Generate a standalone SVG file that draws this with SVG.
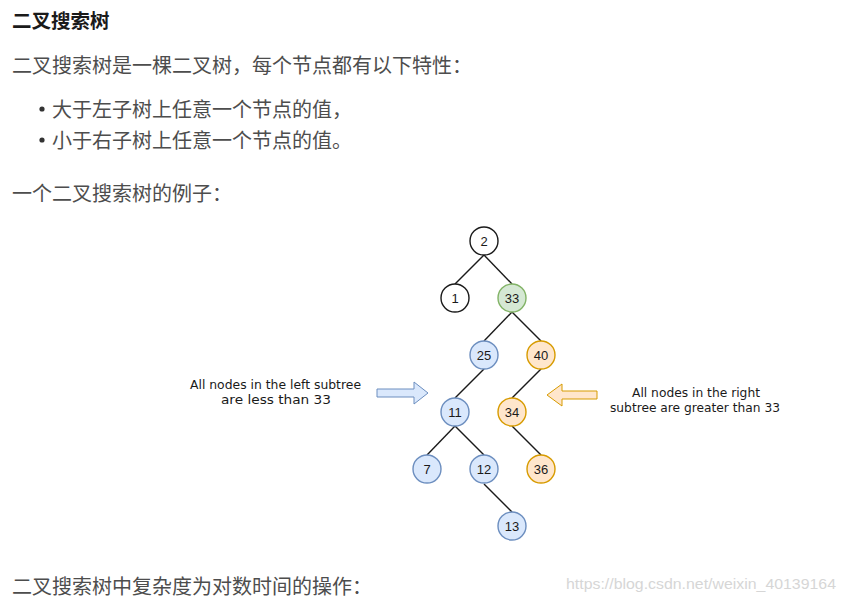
<svg xmlns="http://www.w3.org/2000/svg" width="845" height="602" viewBox="0 0 845 602">
<style>
.body{font-family:"Noto Sans CJK SC","Liberation Sans",sans-serif;font-size:20px;fill:#4d4d4d}
.title{font-family:"Noto Sans CJK SC","Liberation Sans",sans-serif;font-size:19.5px;font-weight:bold;fill:#1a1a1a}
.n circle{stroke-width:1.4}
.n text{font-family:"Liberation Sans","DejaVu Sans",sans-serif;font-size:13px;fill:#1a1a1a;text-anchor:middle}
.w circle{fill:#ffffff;stroke:#1a1a1a}
.g circle{fill:#d5e8d4;stroke:#82b366}
.b circle{fill:#dae8fc;stroke:#6c8ebf}
.o circle{fill:#ffe6cc;stroke:#d79b00}
.lbl{font-family:"DejaVu Sans","Liberation Sans",sans-serif;font-size:12px;fill:#1a1a1a;text-anchor:middle}
#edges line{stroke:#1a1a1a;stroke-width:1.4}
</style>
<rect width="845" height="602" fill="#ffffff"/>
<text class="title" x="12" y="28">二叉搜索树</text>
<text class="body" x="12" y="73">二叉搜索树是一棵二叉树，每个节点都有以下特性：</text>
<circle cx="42" cy="109" r="2.6" fill="#333"/>
<text class="body" x="52" y="117">大于左子树上任意一个节点的值，</text>
<circle cx="42" cy="140" r="2.6" fill="#333"/>
<text class="body" x="52" y="148">小于右子树上任意一个节点的值。</text>
<text class="body" x="12" y="201">一个二叉搜索树的例子：</text>
<text class="body" x="12" y="594">二叉搜索树中复杂度为对数时间的操作：</text>
<text x="566" y="589" font-family="Liberation Sans Narrow,Liberation Sans,sans-serif" font-size="15" fill="#d6d6d6" textLength="270" lengthAdjust="spacingAndGlyphs">https://blog.csdn.net/weixin_40139164</text>

<g id="edges">
<line x1="484" y1="255" x2="455" y2="284"/>
<line x1="484" y1="255" x2="512" y2="284"/>
<line x1="512" y1="312" x2="484" y2="341"/>
<line x1="512" y1="312" x2="541" y2="341"/>
<line x1="484" y1="369" x2="455" y2="398"/>
<line x1="541" y1="369" x2="512" y2="398"/>
<line x1="455" y1="426" x2="427" y2="455"/>
<line x1="455" y1="426" x2="484" y2="455"/>
<line x1="512" y1="426" x2="541" y2="455"/>
<line x1="484" y1="484" x2="512" y2="512"/>
</g>

<g id="n2" class="n w"><circle cx="484" cy="241" r="14"/><text x="484" y="245.5">2</text></g>
<g id="n1" class="n w"><circle cx="455" cy="298" r="14"/><text x="455" y="302.5">1</text></g>
<g id="n33" class="n g"><circle cx="512" cy="298" r="14"/><text x="512" y="302.5">33</text></g>
<g id="n25" class="n b"><circle cx="484" cy="355" r="14"/><text x="484" y="359.5">25</text></g>
<g id="n40" class="n o"><circle cx="541" cy="355" r="14"/><text x="541" y="359.5">40</text></g>
<g id="n11" class="n b"><circle cx="455" cy="412" r="14"/><text x="455" y="416.5">11</text></g>
<g id="n34" class="n o"><circle cx="512" cy="412" r="14"/><text x="512" y="416.5">34</text></g>
<g id="n7" class="n b"><circle cx="427" cy="469" r="14"/><text x="427" y="473.5">7</text></g>
<g id="n12" class="n b"><circle cx="484" cy="469" r="14"/><text x="484" y="473.5">12</text></g>
<g id="n36" class="n o"><circle cx="541" cy="469" r="14"/><text x="541" y="473.5">36</text></g>
<g id="n13" class="n b"><circle cx="512" cy="526" r="14"/><text x="512" y="530.5">13</text></g>

<g id="arrowLeft">
<polygon points="377,389 414,389 414,382 428,393 414,404 414,397 377,397" fill="#dae8fc" stroke="#6c8ebf" stroke-width="1"/>
</g>
<g id="arrowRight">
<polygon points="597,391 562,391 562,384 547,395 562,406 562,399 597,399" fill="#ffe6cc" stroke="#d79b00" stroke-width="1"/>
</g>
<g id="labelLeft">
<text class="lbl" x="275.5" y="389" textLength="171" lengthAdjust="spacingAndGlyphs">All nodes in the left subtree</text>
<text class="lbl" x="276" y="404" textLength="110" lengthAdjust="spacingAndGlyphs">are less than 33</text>
</g>
<g id="labelRight">
<text class="lbl" x="696" y="397" textLength="128" lengthAdjust="spacingAndGlyphs">All nodes in the right</text>
<text class="lbl" x="695" y="412" textLength="170" lengthAdjust="spacingAndGlyphs">subtree are greater than 33</text>
</g>
</svg>
